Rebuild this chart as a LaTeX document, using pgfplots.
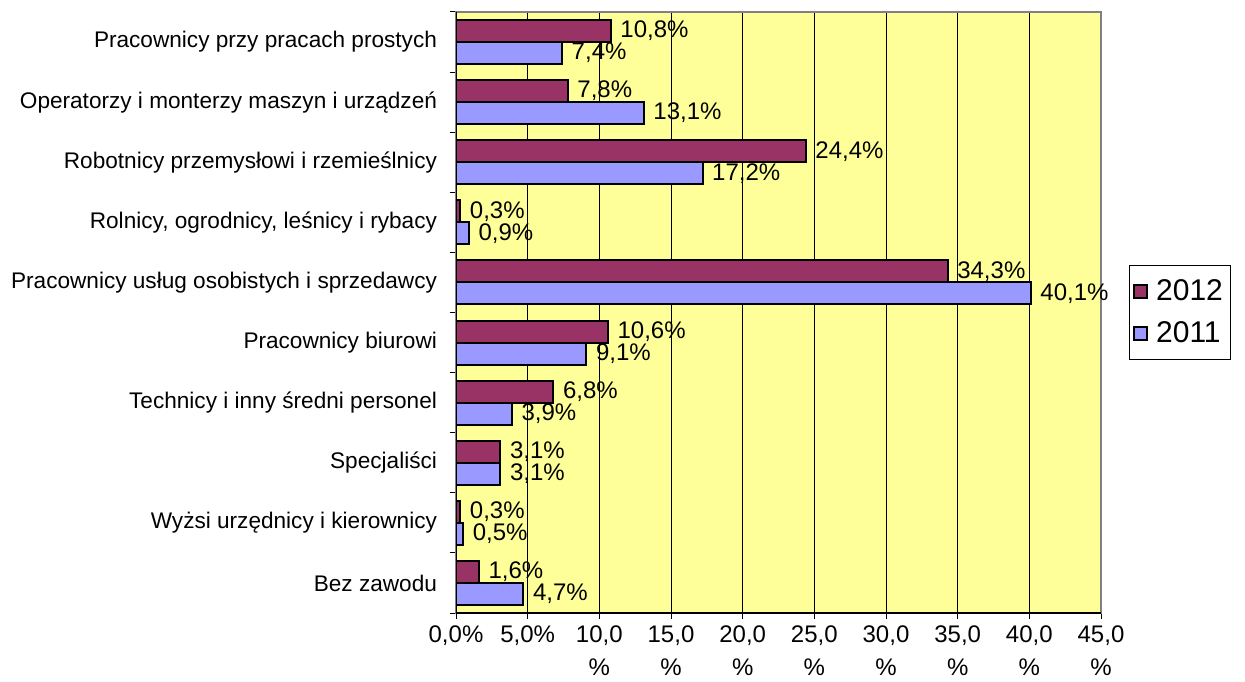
\documentclass[border=0pt]{standalone}
\usepackage{fontspec}
\setmainfont{Liberation Sans}
\usepackage{pgfplots}
\pgfplotsset{compat=1.18}
\definecolor{bgY}{HTML}{FFFF99}
\definecolor{c12}{HTML}{993366}
\definecolor{c11}{HTML}{9999FF}
\begin{document}
\begin{tikzpicture}
\useasboundingbox (0,0) rectangle (622.5pt,340.5pt);
\begin{axis}[
  at={(228pt,34pt)}, anchor=south west,
  scale only axis, width=322.5pt, height=300.5pt,
  xmin=0, xmax=45, ymin=-0.5, ymax=9.5,
  axis background/.style={fill=bgY},
  axis line style={draw=gray, line width=0.6pt},
  font=\fontsize{11.3}{13}\selectfont,
  /pgf/number format/assume math mode=true,
  xtick={0,5,...,45},
  xticklabels={{0,0\%},{5,0\%},{10,0\\\%},{15,0\\\%},{20,0\\\%},{25,0\\\%},{30,0\\\%},{35,0\\\%},{40,0\\\%},{45,0\\\%}},
  xticklabel style={align=center, anchor=north, yshift=0pt, font=\fontsize{12}{16.5}\selectfont},
  xmajorgrids, major grid style={black, line width=0.5pt},
  ytick={0,...,9},
  yticklabels={Bez zawodu, Wyżsi urzędnicy i kierownicy, Specjaliści, Technicy i inny średni personel, Pracownicy biurowi, Pracownicy usług osobistych i sprzedawcy, {Rolnicy, ogrodnicy, leśnicy i rybacy}, Robotnicy przemysłowi i rzemieślnicy, Operatorzy i monterzy maszyn i urządzeń, Pracownicy przy pracach prostych},
  yticklabel style={xshift=-3pt},
  minor ytick={-0.5,0.5,...,9.5},
  xtick pos=bottom, ytick pos=left,
  tick align=outside,
  major tick length=3pt,
  minor tick length=3pt,
  ytick style={draw=none},
  minor y tick style={draw=black, line width=0.5pt},
  xtick style={draw=black, line width=0.5pt},
  xbar, bar width=11pt,
  nodes near coords={\pgfmathprintnumber[fixed,fixed zerofill,precision=1,use comma]{\pgfplotspointmeta}\%},
  nodes near coords align={horizontal},
  every node near coord/.append style={font=\fontsize{12}{13}\selectfont, anchor=west, xshift=1pt},
  point meta=x,
  legend style={at={(1.043,0.5)}, anchor=west, draw=black, line width=0.5pt, font=\fontsize{15}{17}\selectfont, row sep=5pt, inner xsep=2pt, inner ysep=5pt},
  legend cell align=left,
  legend image code/.code={\draw[#1, line width=0.9pt] (0pt,-3.2pt) rectangle (6.4pt,3.2pt); \path[draw=none,fill=none] (0pt,0pt) -- (9pt,0pt);},
]
\addplot[fill=c12, draw=black, line width=1pt, bar shift=5.5pt] coordinates {
(1.6,0) (0.3,1) (3.1,2) (6.8,3) (10.6,4) (34.3,5) (0.3,6) (24.4,7) (7.8,8) (10.8,9)};
\addlegendentry{2012}
\addplot[fill=c11, draw=black, line width=1pt, bar shift=-5.5pt] coordinates {
(4.7,0) (0.5,1) (3.1,2) (3.9,3) (9.1,4) (40.1,5) (0.9,6) (17.2,7) (13.1,8) (7.4,9)};
\addlegendentry{2011}
\draw[black, line width=0.6pt] (rel axis cs:0,0) -- (rel axis cs:0,1);
\draw[black, line width=0.6pt] (rel axis cs:0,0) -- (rel axis cs:1,0);
\end{axis}
\end{tikzpicture}
\end{document}
